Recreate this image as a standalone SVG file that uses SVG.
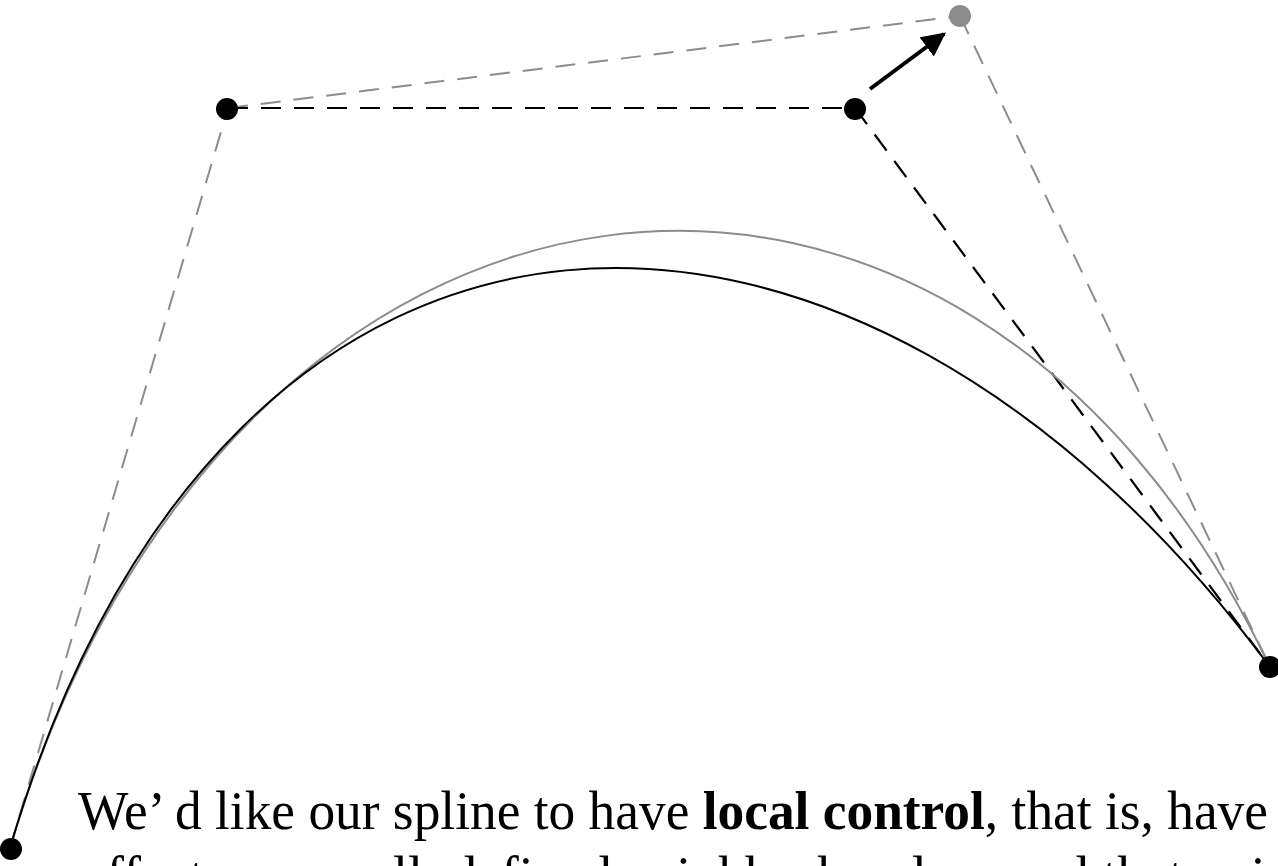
<svg xmlns="http://www.w3.org/2000/svg" width="1278" height="866" viewBox="0 0 1278 866">
<style>
.gdash{fill:none;stroke:#8c8c8c;stroke-width:2;stroke-dasharray:20 13}
.bdash{fill:none;stroke:#000;stroke-width:2.2;stroke-dasharray:20 13}
.curve-b{fill:none;stroke:#000;stroke-width:2}
.curve-g{fill:none;stroke:#8c8c8c;stroke-width:2}
.pt{fill:#000}
.pt-g{fill:#8c8c8c}
.txt{font-family:"Liberation Serif","Times New Roman",serif;font-size:54px;fill:#000}
</style>
<defs>
<marker id="ah" viewBox="0 0 10 10" refX="9" refY="5" markerWidth="6" markerHeight="6" markerUnits="strokeWidth" orient="auto">
<path d="M0,0 L10,5 L0,10 Z" fill="#000"/>
</marker>
</defs>
<rect width="1278" height="866" fill="#fff"/>
<g id="connectors">
<path class="gdash" d="M10,848 L228,108"/>
<path class="gdash" d="M228,108 L960,16"/>
<path class="gdash" d="M960,16 L1270,667"/>
<path class="bdash" d="M228,108 L855,108"/>
<path class="bdash" d="M855,108 L1270,667"/>
<path class="curve-g" d="M10,848 C228,108 960,16 1270,667"/>
<path class="curve-b" d="M10,848 C228,108 855,108 1270,667"/>
<line x1="870" y1="89" x2="944" y2="34" stroke="#000" stroke-width="4" marker-end="url(#ah)"/>
</g>
<g id="P0"><circle class="pt" cx="11" cy="849" r="11"/></g>
<g id="P1"><circle class="pt" cx="227" cy="109" r="11"/></g>
<g id="P2"><circle class="pt" cx="855" cy="109" r="11"/></g>
<g id="P2new"><circle class="pt-g" cx="960" cy="16" r="11"/></g>
<g id="P3"><circle class="pt" cx="1270" cy="667" r="11"/></g>
<g id="caption">
<text class="txt" x="78" y="829" textLength="1190" lengthAdjust="spacingAndGlyphs">We’ d like our spline to have <tspan font-weight="bold">local control</tspan>, that is, have</text>
<text class="txt" x="82" y="894">effects on small, defined neighborhood around that point</text>
</g>
</svg>
